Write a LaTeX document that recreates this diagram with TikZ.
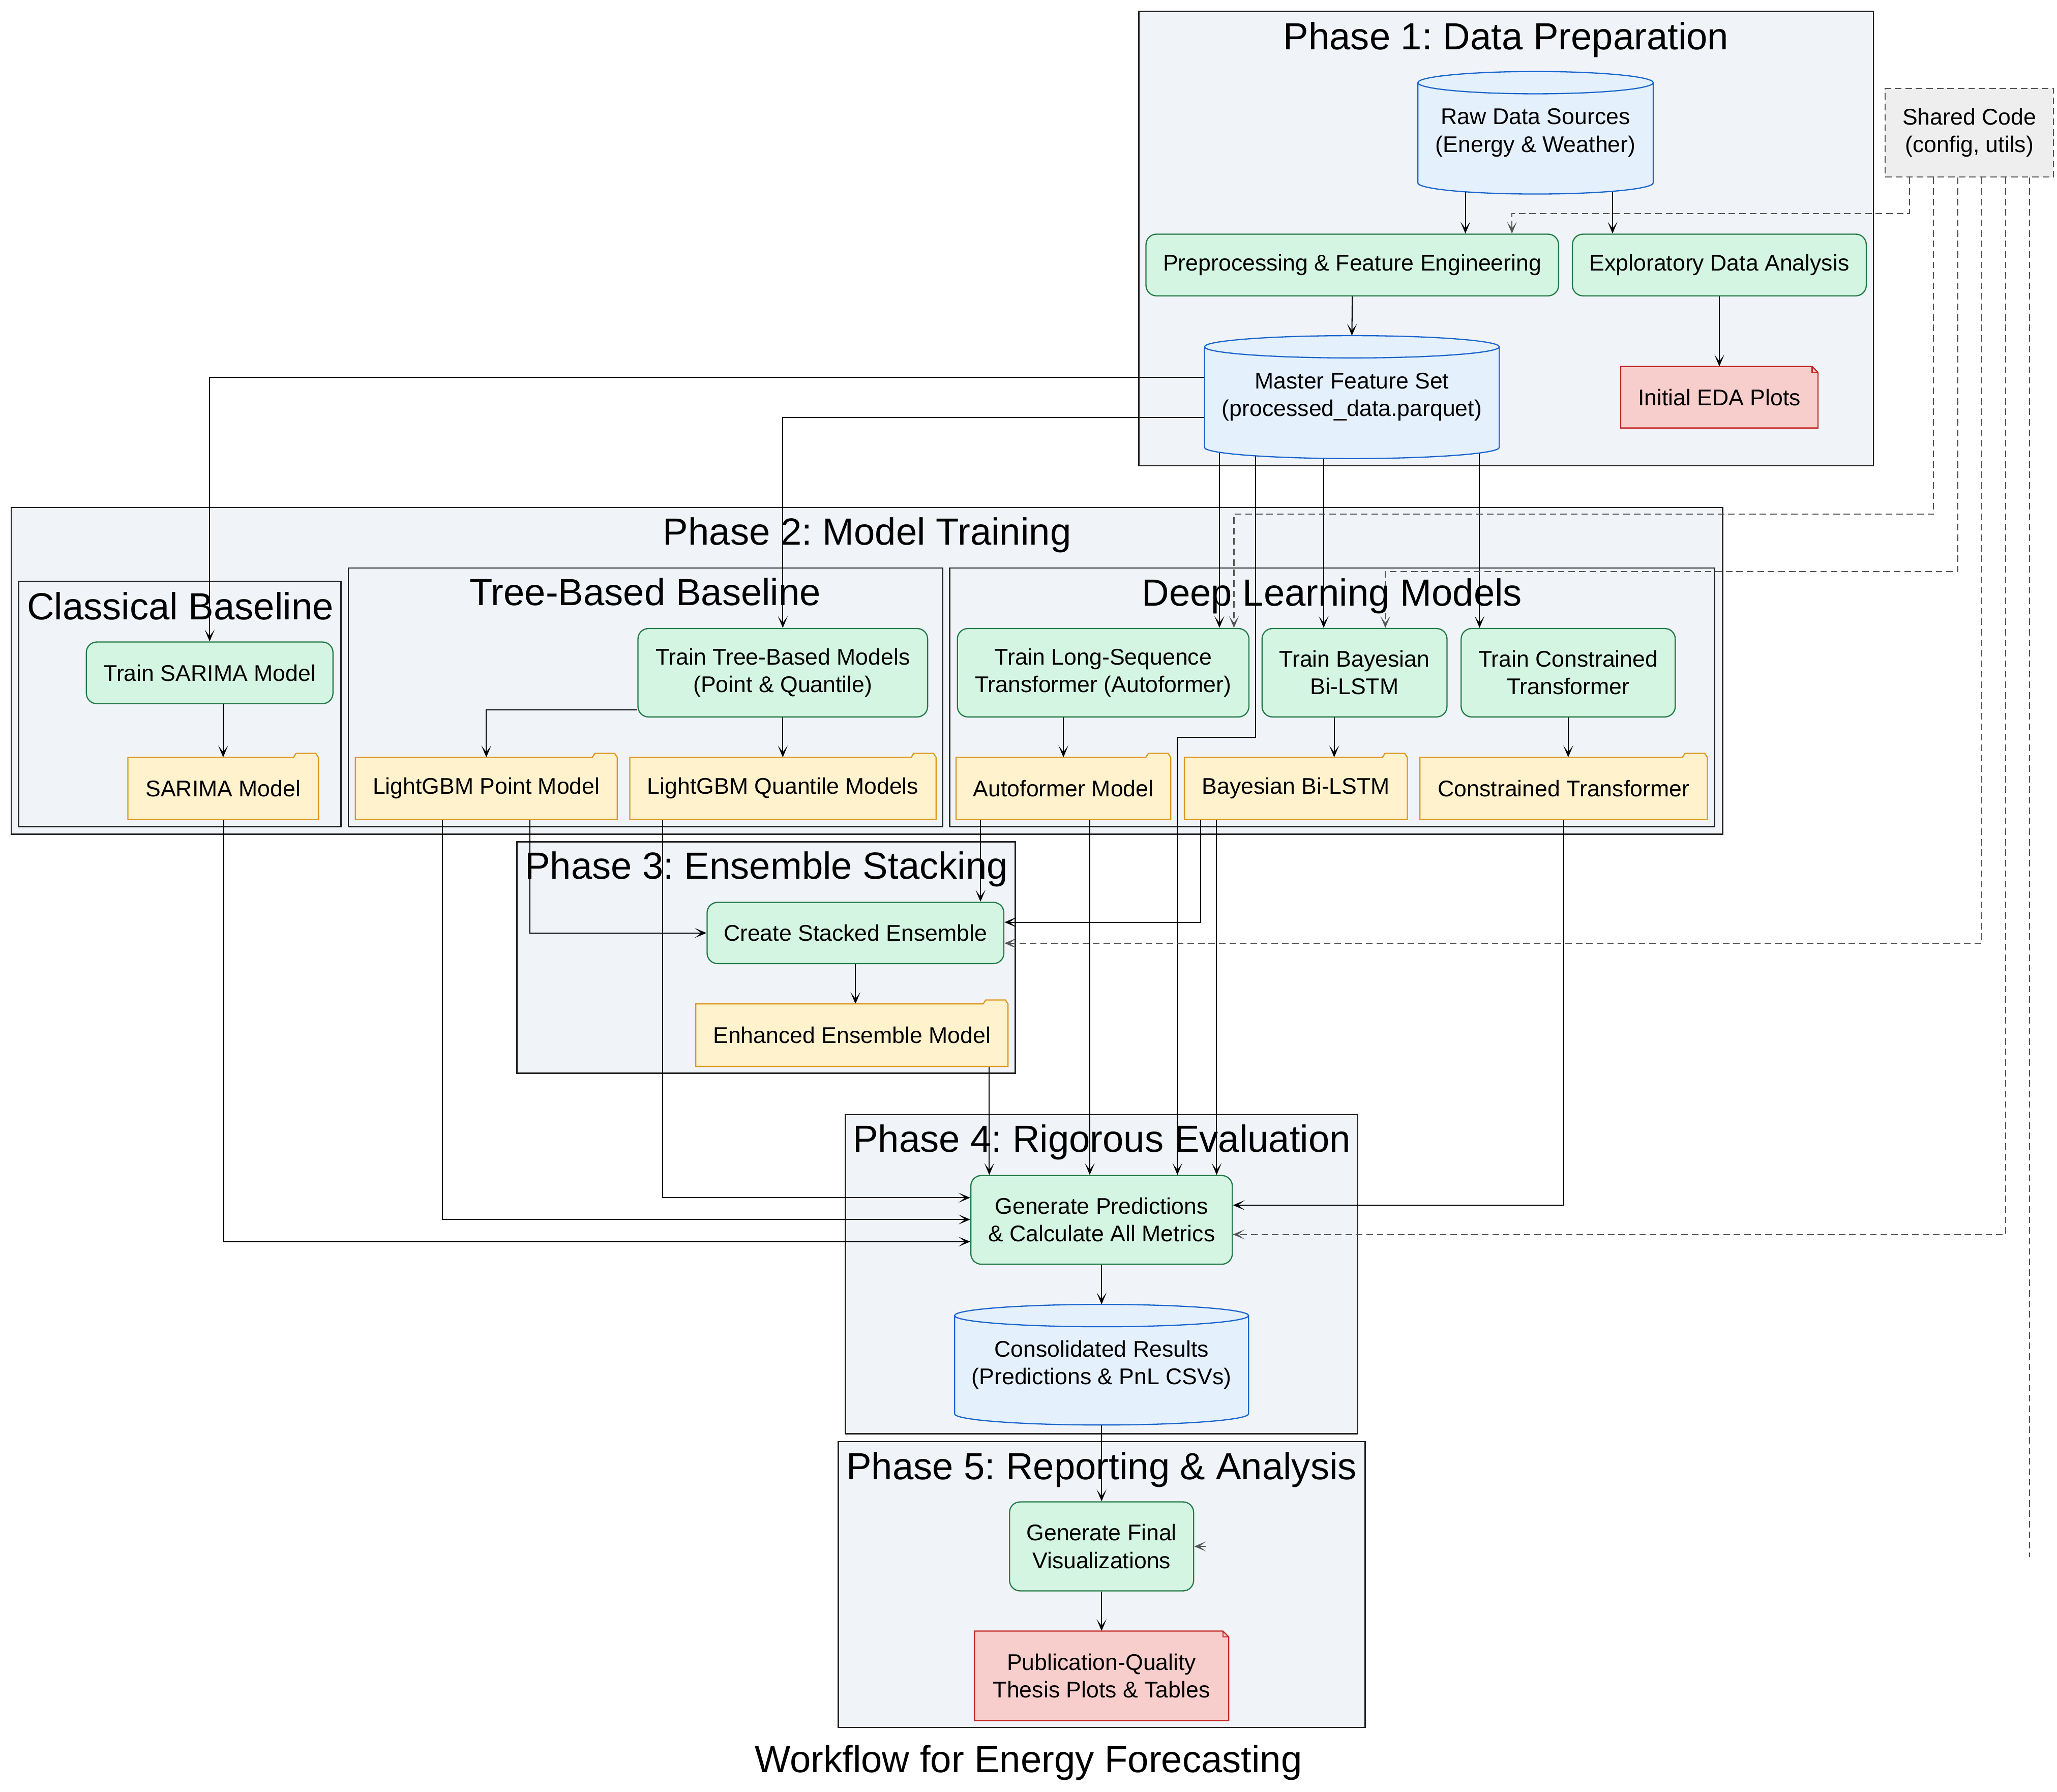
\documentclass[tikz,border=0pt]{standalone}
\usepackage{fontspec}
\setmainfont{Liberation Sans}
\usetikzlibrary{arrows.meta,calc}
\frenchspacing

\pgfdeclarelayer{bg}
\pgfdeclarelayer{edges}
\pgfdeclarelayer{shapes}
\pgfsetlayers{bg,edges,shapes,main}

\definecolor{clusterfill}{HTML}{F0F4F8}
\definecolor{clusterline}{HTML}{222222}
\definecolor{procfill}{HTML}{D5F5E3}
\definecolor{procline}{HTML}{237A46}
\definecolor{dbfill}{HTML}{E5F0FD}
\definecolor{dbline}{HTML}{1A66CC}
\definecolor{artfill}{HTML}{FFF2CC}
\definecolor{artline}{HTML}{E0961E}
\definecolor{repfill}{HTML}{F8CECC}
\definecolor{repline}{HTML}{C62828}
\definecolor{sharedfill}{HTML}{EEEEEE}
\definecolor{sharedline}{HTML}{555555}

\newcommand\nodetxt{\fontsize{17.3pt}{21pt}\selectfont}
\newcommand\clustertxt{\fontsize{28.8pt}{34pt}\selectfont}

% data store outline: a cylinder filling the node's box
\newcommand\drumshape[1]{%
  \path[draw=dbline, fill=dbfill, line width=0.9pt]
    let \p1=(#1.north west), \p2=(#1.south east), \n1={0.5*(\x2-\x1)} in
    (\x1,\y1-8.5pt) -- (\x1,\y2+8.5pt)
    arc[start angle=180, end angle=360, x radius=\n1, y radius=8.5pt]
    -- (\x2,\y1-8.5pt)
    arc[start angle=0, end angle=180, x radius=\n1, y radius=8.5pt] -- cycle
    (\x1,\y1-8.5pt)
    arc[start angle=180, end angle=360, x radius=\n1, y radius=8.5pt];
}
% model artefact outline: a folder with a tab at the top right
\newcommand\foldershape[1]{%
  \path[draw=artline, fill=artfill, line width=0.9pt]
    (#1.north west) -- ([xshift=-19pt]#1.north east)
    -- ([xshift=-17pt,yshift=3pt]#1.north east)
    -- ([xshift=-2pt,yshift=3pt]#1.north east)
    -- (#1.north east) -- (#1.south east) -- (#1.south west) -- cycle;
}
% report outline: a sheet with a folded corner
\newcommand\noteshape[1]{%
  \path[draw=repline, fill=repfill, line width=0.9pt]
    (#1.north west) -- ([xshift=-4.5pt]#1.north east)
    -- ([yshift=-4.5pt]#1.north east) -- (#1.south east)
    -- (#1.south west) -- cycle;
  \path[draw=repline, line width=0.9pt]
    ([xshift=-4.5pt]#1.north east) -- ([xshift=-4.5pt,yshift=-4.5pt]#1.north east)
    -- ([yshift=-4.5pt]#1.north east);
}

\tikzset{
  basebox/.style={rectangle, inner sep=0pt, align=center, font=\nodetxt},
  proc/.style={basebox, draw=procline, fill=procfill, line width=0.9pt, rounded corners=8pt},
  store/.style={basebox},
  artefact/.style={basebox},
  report/.style={basebox},
  sharedbox/.style={basebox, draw=sharedline, fill=sharedfill, line width=0.8pt,
    dash pattern=on 5pt off 3pt},
  cluster/.style={draw=clusterline, fill=clusterfill, line width=1pt},
  ctitle/.style={anchor=base, font=\clustertxt, inner sep=0pt},
  tip/.style={-{Stealth[length=9pt,width=7.5pt,inset=5pt]}},
  arr/.style={draw=black, line width=0.8pt, tip},
  darr/.style={draw=sharedline, line width=0.8pt, dash pattern=on 5pt off 3pt, tip},
  dline/.style={draw=sharedline, line width=0.8pt, dash pattern=on 5pt off 3pt},
}

\begin{document}
\begin{tikzpicture}[x=1pt,y=-1pt]
\useasboundingbox (0,0) rectangle (1568,1366);

% ---------- phase frames ----------
\begin{pgfonlayer}{bg}
  \draw[cluster] (868,8.7) rectangle (1428,355);
  \draw[cluster] (8.5,386.8) rectangle (1313,636);
  \draw[cluster] (14.1,443.3) rectangle (259.8,630.2);
  \draw[cluster] (265.5,433) rectangle (718.4,630.2);
  \draw[cluster] (724,433) rectangle (1307,630.2);
  \draw[cluster] (394,641.7) rectangle (774,818.2);
  \draw[cluster] (644.5,849.7) rectangle (1035,1093);
  \draw[cluster] (639,1099) rectangle (1040.5,1316.8);
\end{pgfonlayer}

\node[ctitle] (title1) at (1148,37.6) {Phase 1: Data Preparation};
\node[ctitle] (title2) at (661,415.4) {Phase 2: Model Training};
\node[ctitle] (title2a) at (137.4,472.3) {Classical Baseline};
\node[ctitle] (title2b) at (491.8,461.4) {Tree-Based Baseline};
\node[ctitle] (title2c) at (1015.4,461.7) {Deep Learning Models};
\node[ctitle] (title3) at (584.2,670.2) {Phase 3: Ensemble Stacking};
\node[ctitle] (title4) at (839.9,878.3) {Phase 4: Rigorous Evaluation};
\node[ctitle] (title5) at (839.7,1128) {Phase 5: Reporting \& Analysis};
\node[ctitle] (caption) at (784,1351) {Workflow for Energy Forecasting};

% ---------- phase 1 ----------
\node[store, minimum width=179pt, minimum height=93pt] (raw) at (1170.5,101.2)
  {Raw Data Sources\\(Energy \& Weather)};
\node[proc, minimum width=314.5pt, minimum height=47pt] (prep) at (1030.8,202)
  {Preprocessing \& Feature Engineering};
\node[proc, minimum width=224pt, minimum height=47pt] (eda) at (1310.6,202)
  {Exploratory Data Analysis};
\node[store, minimum width=224.3pt, minimum height=93.3pt] (master) at (1030.5,302.7)
  {Master Feature Set\\(processed\_data.parquet)};
\node[report, minimum width=150pt, minimum height=46.5pt] (edaplots) at (1310.6,302.8)
  {Initial EDA Plots};
\node[sharedbox, minimum width=128.3pt, minimum height=67.7pt] (shared) at (1501.2,101.2)
  {Shared Code\\(config, utils)};

% ---------- phase 2 ----------
\node[proc, minimum width=188pt, minimum height=47pt] (tsarima) at (159.8,512.9)
  {Train SARIMA Model};
\node[artefact, minimum width=144.8pt, minimum height=47pt] (sarima) at (170.1,601)
  {SARIMA Model};
\node[proc, minimum width=220.8pt, minimum height=67.4pt] (ttree) at (596.7,512.8)
  {Train Tree-Based Models\\(Point \& Quantile)};
\node[artefact, minimum width=199.2pt, minimum height=47pt] (lgbpoint) at (370.7,601)
  {LightGBM Point Model};
\node[artefact, minimum width=233.1pt, minimum height=47pt] (lgbquant) at (596.8,601)
  {LightGBM Quantile Models};
\node[proc, minimum width=222.2pt, minimum height=67.4pt] (tauto) at (840.9,512.8)
  {Train Long-Sequence\\Transformer (Autoformer)};
\node[proc, minimum width=141pt, minimum height=67.4pt] (tbayes) at (1032.5,512.8)
  {Train Bayesian\\Bi-LSTM};
\node[proc, minimum width=163.2pt, minimum height=67.4pt] (tcons) at (1195.4,512.8)
  {Train Constrained\\Transformer};
\node[artefact, minimum width=163.2pt, minimum height=47pt] (autom) at (810.6,601)
  {Autoformer Model};
\node[artefact, minimum width=169.5pt, minimum height=47pt] (bayesm) at (987.8,601)
  {Bayesian Bi-LSTM};
\node[artefact, minimum width=218.7pt, minimum height=47pt] (consm) at (1191.9,601)
  {Constrained Transformer};

% ---------- phase 3 ----------
\node[proc, minimum width=226.2pt, minimum height=46.7pt] (stack) at (652.1,711.2)
  {Create Stacked Ensemble};
\node[artefact, minimum width=237.6pt, minimum height=47.2pt] (ens) at (649.4,789.1)
  {Enhanced Ensemble Model};

% ---------- phase 4 ----------
\node[proc, minimum width=199.3pt, minimum height=67.6pt] (gen) at (839.7,929.9)
  {Generate Predictions\\\& Calculate All Metrics};
\node[store, minimum width=223.7pt, minimum height=91.5pt] (results) at (839.7,1040.3)
  {Consolidated Results\\(Predictions \& PnL CSVs)};

% ---------- phase 5 ----------
\node[proc, minimum width=140.3pt, minimum height=67.8pt] (viz) at (839.7,1178.8)
  {Generate Final\\Visualizations};
\node[report, minimum width=193.5pt, minimum height=67.8pt] (pub) at (839.7,1277.4)
  {Publication-Quality\\Thesis Plots \& Tables};

% ---------- outlines of stores, artefacts and reports ----------
\begin{pgfonlayer}{shapes}
  \drumshape{raw}
  \drumshape{master}
  \drumshape{results}
  \noteshape{edaplots}
  \noteshape{pub}
  \foldershape{sarima}
  \foldershape{lgbpoint}
  \foldershape{lgbquant}
  \foldershape{autom}
  \foldershape{bayesm}
  \foldershape{consm}
  \foldershape{ens}
\end{pgfonlayer}

% ---------- connectors ----------
\coordinate (sharedend) at (1547,1187);
\coordinate (vizstub) at ([xshift=9pt]viz.east);

\begin{pgfonlayer}{edges}
  % phase 1
  \draw[arr] (raw.center -| 1117,0) -- (prep.north -| 1117,0);
  \draw[arr] (raw.center -| 1229.2,0) -- (eda.north -| 1229.2,0);
  \draw[arr] (prep.south) -- (master.north);
  \draw[arr] (eda.south) -- (edaplots.north);
  % feature set to the trainers
  \draw[arr] (master.west |- 0,287.5) -| (tsarima.north);
  \draw[arr] (master.west |- 0,318.3) -| (ttree.north);
  \draw[arr] (master.center -| 929.5,0) -- (tauto.north -| 929.5,0);
  \draw[arr] (master.center -| 1009,0) -- (tbayes.north -| 1009,0);
  \draw[arr] (master.center -| 1127.8,0) -- (tcons.north -| 1127.8,0);
  \draw[arr] (master.center -| 957,0) -- (957,562) -| (gen.north -| 897.5,0);
  % trainers to artefacts
  \draw[arr] (tsarima.south -| sarima.north) -- (sarima.north);
  \draw[arr] (ttree.west |- 0,541) -| (lgbpoint.north);
  \draw[arr] (ttree.south) -- (lgbquant.north -| ttree.south);
  \draw[arr] (tauto.south -| autom.north) -- (autom.north);
  \draw[arr] (tbayes.south -| 1017,0) -- (bayesm.north -| 1017,0);
  \draw[arr] (tcons.south) -- (consm.north -| tcons.south);
  % stacking
  \draw[arr] (lgbpoint.south -| 404,0) |- (stack.west);
  \draw[arr] (autom.south -| 747.4,0) -- (stack.north -| 747.4,0);
  \draw[arr] (bayesm.south -| 915.3,0) |- (stack.east |- 0,703);
  \draw[arr] (stack.south) -- (ens.north -| stack.south);
  % evaluation inputs
  \draw[arr] (ens.south -| 754.1,0) -- (gen.north -| 754.1,0);
  \draw[arr] (autom.south -| 830.7,0) -- (gen.north -| 830.7,0);
  \draw[arr] (bayesm.south -| 927.4,0) -- (gen.north -| 927.4,0);
  \draw[arr] (lgbquant.south -| 505,0) |- (gen.west |- 0,913);
  \draw[arr] (lgbpoint.south -| 337.3,0) |- (gen.west |- 0,929.6);
  \draw[arr] (sarima.south -| 170.5,0) |- (gen.west |- 0,946.5);
  \draw[arr] (consm.south) |- (gen.east |- 0,918.7);
  % results and reporting
  \draw[arr] (gen.south) -- (results.north);
  \draw[arr] (results.south) -- (viz.north);
  \draw[arr] (viz.south) -- (pub.north);
  % shared code dependencies
  \draw[darr] (shared.south -| 1455.4,0) -- (1455.4,162.8) -| (prep.north -| 1152.5,0);
  \draw[darr] (shared.south -| 1473.8,0) -- (1473.8,392) -| (tauto.north -| 940.6,0);
  \draw[darr] (shared.south -| 1492.2,0) -- (1492.2,435.8) -| (tbayes.north -| 1056,0);
  \draw[darr] (shared.south -| 1510.6,0) |- (stack.east |- 0,719);
  \draw[darr] (shared.south -| 1529,0) |- (gen.east |- 0,941);
  \draw[dline] (shared.south -| sharedend) -- (sharedend);
  \draw[darr] (vizstub) -- (viz.east);
\end{pgfonlayer}

\end{tikzpicture}
\end{document}
